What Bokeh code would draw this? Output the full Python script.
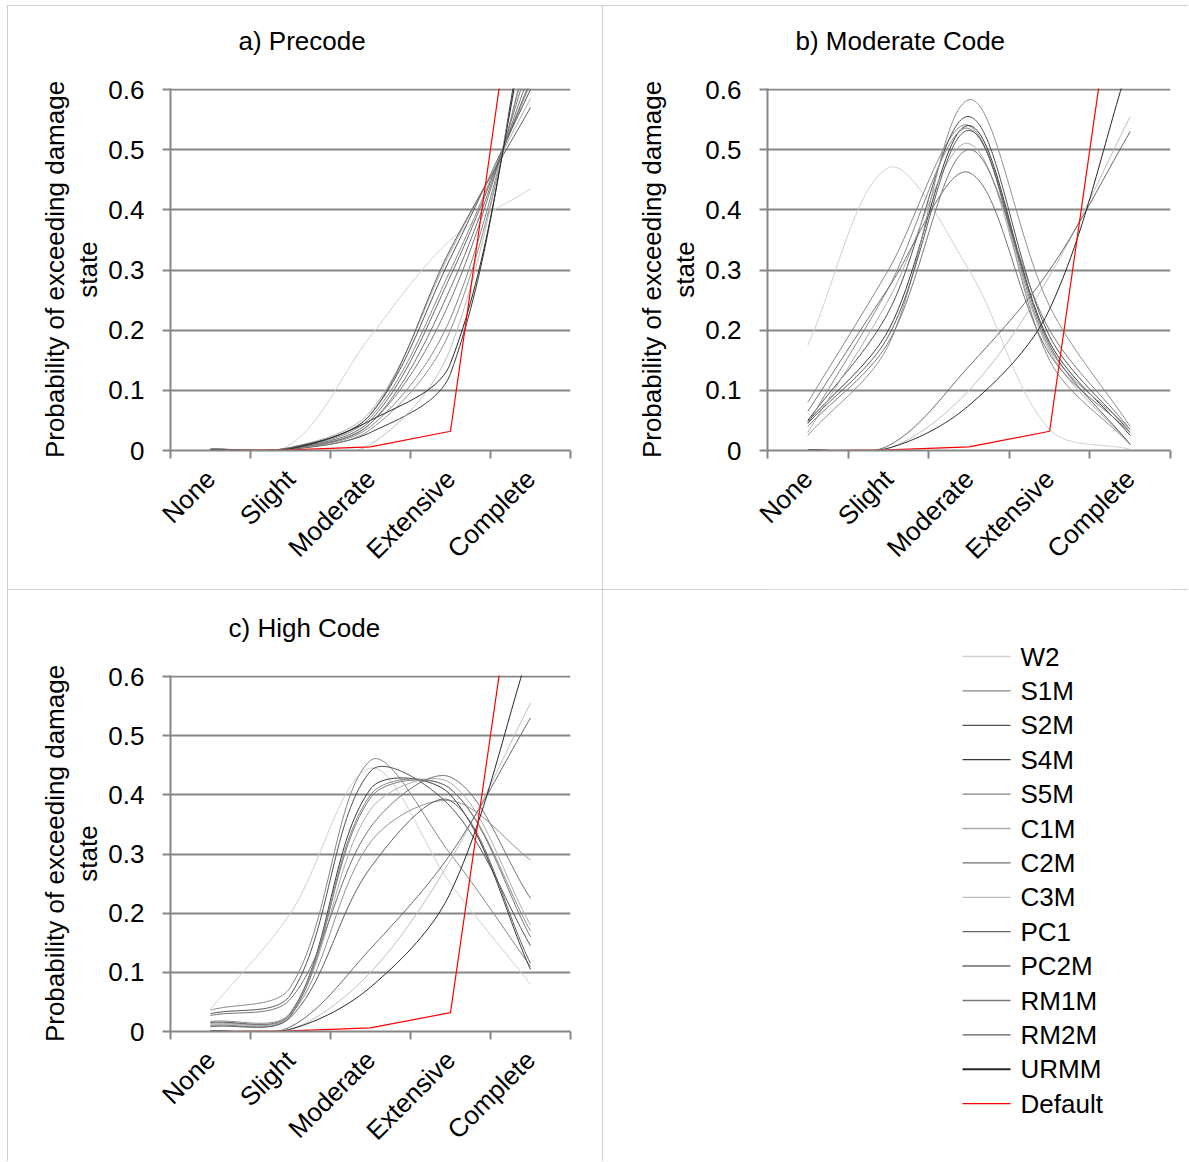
import math
import numpy as np
from bokeh.plotting import figure
from bokeh.models import Range1d, FixedTicker, Title
from bokeh.layouts import column, row
from bokeh.core.properties import value
from bokeh.embed import file_html
from bokeh.resources import INLINE

# ---------------- data ----------------
damage_states = ["None", "Slight", "Moderate", "Extensive", "Complete"]
building_types = ["W2", "S1M", "S2M", "S4M", "S5M", "C1M", "C2M", "C3M",
                  "PC1", "PC2M", "RM1M", "RM2M", "URMM"]
y_ticks = [0, 0.1, 0.2, 0.3, 0.4, 0.5, 0.6]
y_tick_labels = ["0", "0.1", "0.2", "0.3", "0.4", "0.5", "0.6"]

# probability of each damage state, rows follow building_types
precode = [
    [0.003, 0.010, 0.190, 0.350, 0.435],   # W2
    [0.002, 0.004, 0.055, 0.300, 0.610],   # S1M
    [0.002, 0.004, 0.060, 0.320, 0.600],   # S2M
    [0.001, 0.002, 0.030, 0.128, 0.760],   # S4M
    [0.001, 0.003, 0.040, 0.220, 0.670],   # S5M
    [0.002, 0.005, 0.065, 0.330, 0.585],   # C1M
    [0.001, 0.003, 0.045, 0.270, 0.630],   # C2M
    [0.001, 0.001, 0.010, 0.170, 0.720],   # C3M
    [0.002, 0.004, 0.050, 0.290, 0.615],   # PC1
    [0.001, 0.003, 0.035, 0.200, 0.680],   # PC2M
    [0.001, 0.003, 0.045, 0.250, 0.650],   # RM1M
    [0.002, 0.005, 0.060, 0.335, 0.570],   # RM2M
    [0.001, 0.003, 0.050, 0.145, 0.740],   # URMM
]
moderate_code = [
    [0.175, 0.470, 0.300, 0.035, 0.002],   # W2
    [0.080, 0.300, 0.540, 0.150, 0.010],   # S1M
    [0.050, 0.230, 0.555, 0.190, 0.030],   # S2M
    [0.048, 0.200, 0.540, 0.180, 0.025],   # S4M
    [0.045, 0.270, 0.535, 0.170, 0.035],   # S5M
    [0.030, 0.250, 0.510, 0.165, 0.010],   # C1M
    [0.065, 0.270, 0.462, 0.160, 0.030],   # C2M
    [0.001, 0.003, 0.100, 0.290, 0.555],   # C3M
    [0.001, 0.008, 0.140, 0.300, 0.530],   # PC1
    [0.025, 0.175, 0.583, 0.240, 0.040],   # PC2M
    [0.040, 0.180, 0.500, 0.200, 0.035],   # RM1M
    [0.045, 0.190, 0.532, 0.175, 0.010],   # RM2M
    [0.001, 0.004, 0.075, 0.235, 0.650],   # URMM
]
high_code = [
    [0.038, 0.200, 0.445, 0.250, 0.080],   # W2
    [0.036, 0.075, 0.458, 0.300, 0.110],   # S1M
    [0.030, 0.062, 0.440, 0.380, 0.145],   # S2M
    [0.015, 0.030, 0.410, 0.400, 0.105],   # S4M
    [0.017, 0.032, 0.400, 0.410, 0.170],   # S5M
    [0.012, 0.028, 0.375, 0.420, 0.180],   # C1M
    [0.027, 0.055, 0.345, 0.430, 0.225],   # C2M
    [0.001, 0.003, 0.100, 0.290, 0.555],   # C3M
    [0.001, 0.008, 0.140, 0.300, 0.530],   # PC1
    [0.014, 0.028, 0.320, 0.390, 0.290],   # PC2M
    [0.010, 0.026, 0.395, 0.410, 0.160],   # RM1M
    [0.008, 0.024, 0.277, 0.390, 0.115],   # RM2M
    [0.001, 0.004, 0.075, 0.235, 0.650],   # URMM
]
default_curve = [0.0, 0.001, 0.006, 0.032, 0.970]

type_colors = ["#d0d0d0", "#858585", "#505050", "#383838", "#858585", "#ababab",
               "#707070", "#bdbdbd", "#666666", "#8f8f8f", "#787878", "#5c5c5c",
               "#262626"]
default_color = "#ff0000"

FONT = "Liberation Sans"
GRID = "#868686"
BORDER = "#c0c0c0"
x_pos = [0.5, 1.5, 2.5, 3.5, 4.5]


def smooth(xs, ys, kx, ky, n=40):
    """Excel-like smoothed line: Bezier segments whose control points follow the
    neighbour chord, scaled by the (screen) lengths of the adjacent segments."""
    P = np.array([[x * kx, y * ky] for x, y in zip(xs, ys)], float)
    m = len(P)
    ctrl_in, ctrl_out = [None] * m, [None] * m
    for i in range(m):
        prev_p = P[i - 1] if i > 0 else P[i]
        next_p = P[i + 1] if i < m - 1 else P[i]
        tang = next_p - prev_p
        d1 = np.hypot(*(P[i] - prev_p))
        d2 = np.hypot(*(next_p - P[i]))
        tot = d1 + d2 if d1 + d2 > 0 else 1.0
        ctrl_in[i] = P[i] - tang * (d1 / tot) / 3.0
        ctrl_out[i] = P[i] + tang * (d2 / tot) / 3.0
    t = np.linspace(0, 1, n)[:, None]
    out = []
    for i in range(m - 1):
        p1, c1, c2, p2 = P[i], ctrl_out[i], ctrl_in[i + 1], P[i + 1]
        seg = ((1 - t) ** 3) * p1 + 3 * ((1 - t) ** 2) * t * c1 + 3 * (1 - t) * t ** 2 * c2 + t ** 3 * p2
        out.append(seg if i == 0 else seg[1:])
    arr = np.vstack(out)
    return arr[:, 0] / kx, arr[:, 1] / ky


def make_panel(title, values, width, height, left, right, top, bottom, frame_w, frame_h,
               title_offset, title_standoff, spacer_standoff):
    p = figure(width=width, height=height, title=None,
               x_range=Range1d(0, 5), y_range=Range1d(0, 0.6 * frame_h / (frame_h - 1)),
               output_backend="svg", toolbar_location=None,
               min_border_left=left, min_border_right=right,
               min_border_top=top, min_border_bottom=bottom,
               styles={"outline": "1px solid " + BORDER, "outline-offset": "-1px"})
    # blank spacer next to the frame, then the visible title above it
    p.add_layout(Title(text="\u00a0", text_color="white", text_font_size="4px",
                       standoff=spacer_standoff), "above")
    p.add_layout(Title(text=title, align="left", offset=title_offset, text_font=FONT,
                       text_font_size="26px", text_font_style="normal", text_color="black",
                       standoff=title_standoff), "above")
    p.outline_line_color = None
    p.background_fill_color = "white"
    p.border_fill_color = "white"

    # y axis
    ya = p.yaxis[0]
    ya.ticker = FixedTicker(ticks=y_ticks)
    ya.major_label_overrides = dict(zip(y_ticks, y_tick_labels))
    ya.axis_line_color = GRID
    ya.axis_line_width = 2
    ya.major_tick_line_color = GRID
    ya.major_tick_line_width = 2
    ya.major_tick_out = 8
    ya.major_tick_in = 0
    ya.minor_tick_line_color = None
    ya.major_label_text_font = FONT
    ya.major_label_text_font_size = "26px"
    ya.major_label_text_color = "black"
    ya.major_label_standoff = 18
    ya.axis_label = "Probability of exceeding damage\nstate"
    ya.axis_label_text_font = FONT
    ya.axis_label_text_font_size = "26px"
    ya.axis_label_text_font_style = "normal"
    ya.axis_label_text_color = "black"
    ya.axis_label_text_line_height = 1.1
    ya.axis_label_standoff = 2

    # x axis: labels centred between tick marks
    xa = p.xaxis[0]
    xa.ticker = FixedTicker(ticks=x_pos, minor_ticks=[0, 1, 2, 3, 4, 5])
    xa.major_label_overrides = dict(zip(x_pos, damage_states))
    xa.axis_line_color = GRID
    xa.axis_line_width = 2
    xa.major_tick_line_color = None
    xa.major_tick_out = 8
    xa.major_tick_in = 0
    xa.minor_tick_line_color = GRID
    xa.minor_tick_line_width = 2
    xa.minor_tick_out = 8
    xa.minor_tick_in = 0
    xa.major_label_orientation = math.pi / 4
    xa.major_label_text_font = FONT
    xa.major_label_text_font_size = "26px"
    xa.major_label_text_color = "black"
    xa.major_label_standoff = 16

    p.xgrid.grid_line_color = None
    p.ygrid.ticker = FixedTicker(ticks=y_ticks)
    p.ygrid.grid_line_color = GRID
    p.ygrid.grid_line_width = 2

    kx = frame_w / 5.0
    ky = (frame_h - 1) / 0.6
    for name, vals, col in zip(building_types, values, type_colors):
        sx, sy = smooth(x_pos, vals, kx, ky)
        p.line(sx, sy, line_color=col, line_width=1)
    p.line(x_pos, default_curve, line_color=default_color, line_width=1.2)
    return p


pa = make_panel("a) Precode", precode, 595, 584, 163, 32, 83, 139, 400, 362, 68, 36, 8)
pb = make_panel("b) Moderate Code", moderate_code, 586, 584, 165, 18, 83, 139, 403, 362, 28, 36, 8)
pc = make_panel("c) High Code", high_code, 595, 572, 163, 32, 86, 130, 400, 356, 58, 42, 5)

# legend panel (data units equal canvas pixels, y measured from the top)
LW, LH = 586, 572
LEFT, RIGHT = 165, 18
pd = figure(width=LW, height=LH, x_range=Range1d(LEFT, LW - RIGHT), y_range=Range1d(LH, 0),
            title=None, output_backend="svg", toolbar_location=None,
            min_border_left=LEFT, min_border_right=RIGHT, min_border_top=0, min_border_bottom=0,
            styles={"outline": "1px solid " + BORDER, "outline-offset": "-1px"})
pd.axis.visible = False
pd.grid.visible = False
pd.outline_line_color = None
legend_names = building_types + ["Default"]
legend_colors = type_colors + [default_color]
legend_widths = [1.3] * 9 + [2.0, 1.3, 1.3, 2.0, 1.3]
row_y = [67 + 34.4 * i for i in range(len(legend_names))]
pd.segment(x0=[360] * len(legend_names), x1=[408] * len(legend_names), y0=row_y, y1=row_y,
           line_color=legend_colors, line_width=legend_widths)
pd.text(x=[418] * len(legend_names), y=row_y, text=legend_names,
        text_font=value(FONT), text_font_size=value("26px"), text_color="black",
        text_baseline="middle")

layout = row(column(pa, pc), column(pb, pd), styles={"margin-left": "7px", "margin-top": "5px"})
open("out.html", "w").write(file_html(layout, INLINE))
